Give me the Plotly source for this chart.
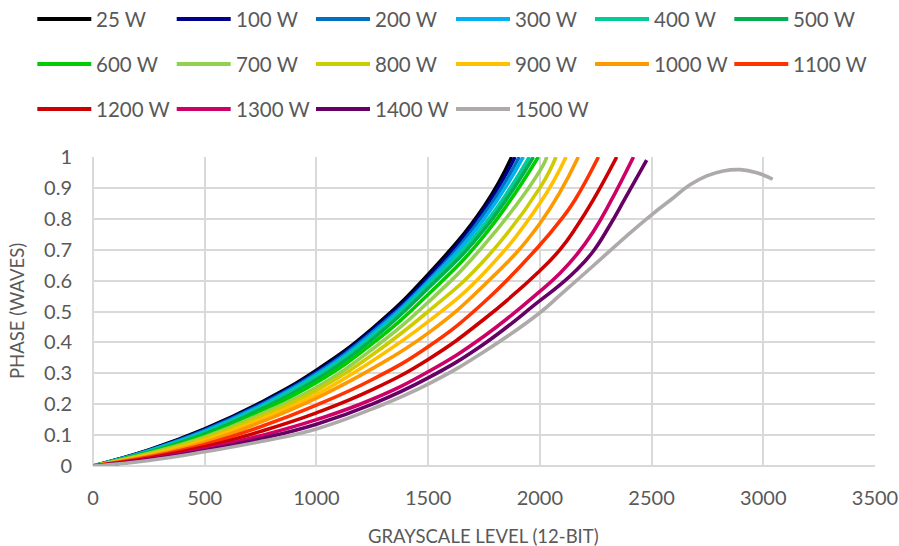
import plotly.graph_objects as go

# ---- data ----
SERIES = ["25 W", "100 W", "200 W", "300 W", "400 W", "500 W", "600 W", "700 W",
          "800 W", "900 W", "1000 W", "1100 W", "1200 W", "1300 W", "1400 W", "1500 W"]
COLORS = ["#000000", "#00008C", "#0070C0", "#00B0F0", "#00CC99", "#00B050", "#00CC00", "#92D050",
          "#CCCC00", "#FFC000", "#FF9900", "#FF3300", "#CC0000", "#CC0066", "#660066", "#AEAAAA"]

GRAY_BASE = [0, 250, 500, 750, 1000, 1250, 1500, 1750]

GRAY_25W = GRAY_BASE + [1874]
PHASE_25W = [0, 0.052, 0.12, 0.205, 0.31, 0.445, 0.62, 0.84, 1.0]
GRAY_100W = GRAY_BASE + [1889]
PHASE_100W = [0, 0.051, 0.118, 0.202, 0.305, 0.44, 0.61, 0.83, 1.0]
GRAY_200W = GRAY_BASE + [1908]
PHASE_200W = [0, 0.05, 0.115, 0.198, 0.30, 0.433, 0.60, 0.815, 1.0]
GRAY_300W = GRAY_BASE + [1926]
PHASE_300W = [0, 0.049, 0.112, 0.194, 0.295, 0.427, 0.595, 0.80, 1.0]
GRAY_400W = GRAY_BASE + [1953]
PHASE_400W = [0, 0.047, 0.108, 0.19, 0.29, 0.42, 0.585, 0.78, 1.0]
GRAY_500W = GRAY_BASE + [1971]
PHASE_500W = [0, 0.045, 0.104, 0.183, 0.28, 0.41, 0.575, 0.765, 1.0]
GRAY_600W = GRAY_BASE + [1993]
PHASE_600W = [0, 0.043, 0.099, 0.176, 0.27, 0.396, 0.555, 0.745, 1.0]
GRAY_700W = GRAY_BASE + [2000, 2031]
PHASE_700W = [0, 0.041, 0.094, 0.168, 0.255, 0.378, 0.53, 0.715, 0.955, 1.0]
GRAY_800W = GRAY_BASE + [2000, 2072]
PHASE_800W = [0, 0.038, 0.089, 0.16, 0.245, 0.36, 0.50, 0.665, 0.90, 1.0]
GRAY_900W = GRAY_BASE + [2000, 2117]
PHASE_900W = [0, 0.035, 0.083, 0.151, 0.232, 0.34, 0.467, 0.625, 0.85, 1.0]
GRAY_1000W = GRAY_BASE + [2000, 2172]
PHASE_1000W = [0, 0.032, 0.077, 0.142, 0.22, 0.315, 0.43, 0.585, 0.785, 1.0]
GRAY_1100W = GRAY_BASE + [2000, 2090, 2157, 2262]
PHASE_1100W = [0, 0.029, 0.07, 0.127, 0.197, 0.28, 0.386, 0.53, 0.715, 0.793, 0.861, 1.0]
GRAY_1200W = GRAY_BASE + [2000, 2090, 2164, 2239, 2344]
PHASE_1200W = [0, 0.025, 0.062, 0.112, 0.172, 0.247, 0.345, 0.475, 0.632, 0.70, 0.774, 0.861, 1.0]
GRAY_1300W = GRAY_BASE + [2000, 2090, 2164, 2239, 2314, 2419]
PHASE_1300W = [0, 0.022, 0.055, 0.098, 0.15, 0.216, 0.305, 0.42, 0.565, 0.624, 0.683, 0.758, 0.852, 1.0]
GRAY_1400W = GRAY_BASE + [2000, 2090, 2164, 2239, 2314, 2381, 2478]
PHASE_1400W = [0, 0.02, 0.05, 0.088, 0.135, 0.2, 0.285, 0.395, 0.535, 0.586, 0.634, 0.695, 0.78, 0.865, 0.99]
GRAY_1500W = GRAY_BASE + [2000, 2090, 2239, 2389, 2500, 2598, 2672, 2747, 2821, 2896, 2971, 3042]
PHASE_1500W = [0, 0.018, 0.046, 0.079, 0.12, 0.185, 0.265, 0.37, 0.496, 0.553, 0.648, 0.745, 0.813,
               0.868, 0.910, 0.939, 0.955, 0.959, 0.949, 0.928]

GRAYS = [GRAY_25W, GRAY_100W, GRAY_200W, GRAY_300W, GRAY_400W, GRAY_500W, GRAY_600W, GRAY_700W,
         GRAY_800W, GRAY_900W, GRAY_1000W, GRAY_1100W, GRAY_1200W, GRAY_1300W, GRAY_1400W, GRAY_1500W]
PHASES = [PHASE_25W, PHASE_100W, PHASE_200W, PHASE_300W, PHASE_400W, PHASE_500W, PHASE_600W,
          PHASE_700W, PHASE_800W, PHASE_900W, PHASE_1000W, PHASE_1100W, PHASE_1200W,
          PHASE_1300W, PHASE_1400W, PHASE_1500W]

X_TICKS = [0, 500, 1000, 1500, 2000, 2500, 3000, 3500]
Y_TICKS = [0, 0.1, 0.2, 0.3, 0.4, 0.5, 0.6, 0.7, 0.8, 0.9, 1]

# ---- layout constants ----
W, H = 899, 546
L, R, T, B = 93, 24, 157, 80
PW, PH = W - L - R, H - T - B
FONT = "Lato, 'Open Sans', sans-serif"
TXT = "#595959"
GRID = "#d9d9d9"


def px_x(px):
    return (px - L) / PW


def px_y(py):
    return (H - B - py) / PH


fig = go.Figure()
for name, col, gx, ph in zip(SERIES, COLORS, GRAYS, PHASES):
    fig.add_trace(go.Scatter(x=gx, y=ph, mode="lines", name=name,
                             line=dict(color=col, width=3.6, shape="spline", smoothing=1.3),
                             showlegend=False))

# manual legend (3 rows)
ROW_Y = [19, 64, 109]
COL_X = [37.3, 176.7, 316, 456, 595, 734.3]
shapes, annos = [], []
for i, (name, col) in enumerate(zip(SERIES, COLORS)):
    r, c = divmod(i, 6)
    x0 = COL_X[c]
    y = ROW_Y[r]
    shapes.append(dict(type="line", xref="paper", yref="paper",
                       x0=px_x(x0), x1=px_x(x0 + 54), y0=px_y(y), y1=px_y(y),
                       line=dict(color=col, width=4)))
    annos.append(dict(text=name, xref="paper", yref="paper", x=px_x(x0 + 57), y=px_y(y),
                      xanchor="left", yanchor="middle", showarrow=False,
                      font=dict(family=FONT, size=20.5, color=TXT)))

# axis titles
annos.append(dict(text="GRAYSCALE LEVEL (12-BIT)", xref="paper", yref="paper",
                  x=px_x(483), y=px_y(536), xanchor="center", yanchor="middle", showarrow=False,
                  font=dict(family=FONT, size=18.5, color=TXT)))
annos.append(dict(text="PHASE (WAVES)", xref="paper", yref="paper", textangle=-90,
                  x=px_x(17), y=px_y(311), xanchor="center", yanchor="middle", showarrow=False,
                  font=dict(family=FONT, size=18.5, color=TXT)))

fig.update_layout(
    width=W, height=H,
    margin=dict(l=L, r=R, t=T, b=B),
    paper_bgcolor="white", plot_bgcolor="white",
    font=dict(family=FONT, size=20, color=TXT),
    shapes=shapes, annotations=annos,
    xaxis=dict(range=[0, 3500], tickvals=X_TICKS, showgrid=True, gridcolor=GRID, gridwidth=1.5,
               zeroline=True, zerolinecolor=GRID, zerolinewidth=1.5, showline=False, ticks="",
               automargin=False, ticklabelstandoff=18,
               tickfont=dict(size=20, color=TXT)),
    yaxis=dict(range=[0, 1], tickvals=Y_TICKS, showgrid=True, gridcolor=GRID, gridwidth=1.5,
               zeroline=True, zerolinecolor=GRID, zerolinewidth=1.5, showline=False, ticks="",
               automargin=False, ticklabelstandoff=20,
               tickfont=dict(size=20, color=TXT)),
)

fig.write_html("out.html", config={"displayModeBar": False},
               post_script="document.body.style.margin='0';document.body.style.padding='0';")
